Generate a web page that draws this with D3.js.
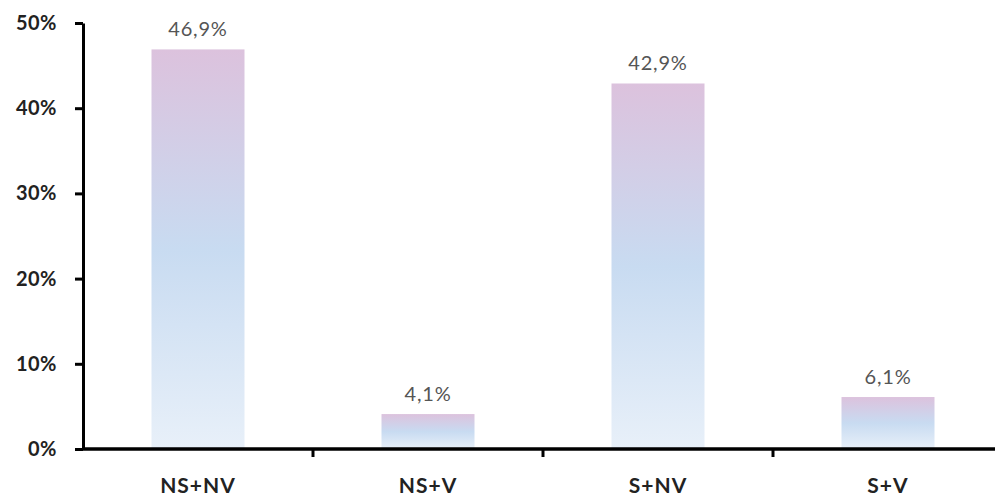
<!DOCTYPE html>
<html><head><meta charset="utf-8">
<script src="https://cdn.jsdelivr.net/npm/d3@7"></script>
<style>body{margin:0;background:#fff;} svg{display:block;}</style>
</head><body>
<svg id="c" width="995" height="497"></svg>
<script>
const categories = ["NS+NV", "NS+V", "S+NV", "S+V"];
const values = [46.9, 4.1, 42.9, 6.1];
const valueLabels = ["46,9%", "4,1%", "42,9%", "6,1%"];
const yTicks = [0, 10, 20, 30, 40, 50];

const svg = d3.select("#c");
const x = d3.scaleBand().domain(categories).range([83, 1003]);
const y = d3.scaleLinear().domain([0, 50]).range([449, 23]);

const defs = svg.append("defs");
const g = defs.append("linearGradient").attr("id", "grad").attr("x1", 0).attr("y1", 0).attr("x2", 0).attr("y2", 1);
g.append("stop").attr("offset", "0%").attr("stop-color", "#dcc2dd");
g.append("stop").attr("offset", "50%").attr("stop-color", "#c8dbf1");
g.append("stop").attr("offset", "100%").attr("stop-color", "#e8f0f9");

const bw = 93;
svg.selectAll("rect.bar").data(values).join("rect")
  .attr("class", "bar")
  .attr("x", (d, i) => x(categories[i]) + x.bandwidth() / 2 - bw / 2)
  .attr("width", bw)
  .attr("y", d => y(d))
  .attr("height", d => y(0) - y(d))
  .attr("fill", "url(#grad)");

svg.selectAll("text.val").data(values).join("text")
  .attr("class", "val")
  .attr("x", (d, i) => x(categories[i]) + x.bandwidth() / 2)
  .attr("y", d => y(d) - 13)
  .attr("text-anchor", "middle")
  .attr("font-family", "Lato, 'Open Sans', sans-serif")
  .attr("font-size", 20)
  .attr("letter-spacing", 0.8)
  .attr("fill", "#555")
  .text((d, i) => valueLabels[i]);

// y axis
const yAxis = d3.axisLeft(y).tickValues(yTicks).tickFormat(d => d + "%").tickSize(8).tickSizeOuter(0);
const ya = svg.append("g").attr("transform", "translate(83,0)").call(yAxis);
ya.select(".domain").attr("stroke", "#000").attr("stroke-width", 3);
ya.selectAll(".tick line").attr("stroke", "#000").attr("stroke-width", 3);
ya.selectAll(".tick text").attr("x", -26).attr("font-family", "Lato, 'Open Sans', sans-serif")
  .attr("font-size", 20).attr("font-weight", "bold").attr("letter-spacing", 0.5).attr("fill", "#222");

// x axis
const xa = svg.append("g").attr("transform", "translate(0,449)");
xa.append("line").attr("x1", 83).attr("x2", 995).attr("y1", 0).attr("y2", 0).attr("stroke", "#000").attr("stroke-width", 3.5);
xa.selectAll("line.t").data(categories.slice(1)).join("line").attr("class", "t")
  .attr("x1", d => x(d)).attr("x2", d => x(d)).attr("y1", 0).attr("y2", 8)
  .attr("stroke", "#000").attr("stroke-width", 3);
xa.selectAll("text.cat").data(categories).join("text").attr("class", "cat")
  .attr("x", d => x(d) + x.bandwidth() / 2).attr("y", 44)
  .attr("text-anchor", "middle")
  .attr("font-family", "Lato, 'Open Sans', sans-serif")
  .attr("font-size", 21).attr("font-weight", "bold").attr("letter-spacing", 1).attr("fill", "#222")
  .text(d => d);
</script>
</body></html>
